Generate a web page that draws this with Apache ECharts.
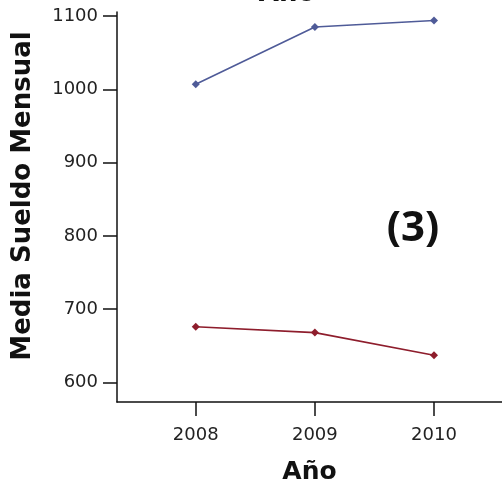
<!DOCTYPE html>
<html>
<head>
<meta charset="utf-8">
<script src="https://cdn.jsdelivr.net/npm/echarts@6/dist/echarts.min.js"></script>
<style>html,body{margin:0;padding:0;background:#fff}#c{width:502px;height:483px}</style>
</head>
<body>
<div id="c"></div>
<script>
const years = [2008, 2009, 2010];
const seriesBlue = [1007, 1085, 1094];
const seriesRed = [676, 668, 637];
const yTicks = [600, 700, 800, 900, 1000, 1100];
const xTitle = 'Año';
const yTitle = 'Media Sueldo Mensual';
const topTitle = 'Año';
const panelLabel = '(3)';

const chart = echarts.init(document.getElementById('c'), null, {renderer: 'canvas'});
const font = 'DejaVu Sans';
chart.setOption({
  backgroundColor: '#ffffff',
  animation: false,
  grid: {left: 117, top: 12, right: 0, bottom: 81, containLabel: false, outerBoundsMode: 'none'},
  xAxis: {
    type: 'value', min: 2007.339, max: 2010.571,
    name: xTitle, nameLocation: 'middle', nameGap: 58,
    nameTextStyle: {fontFamily: font, fontWeight: 'bold', fontSize: 25, color: '#111'},
    axisLine: {show: true, lineStyle: {color: '#111', width: 1.5}},
    axisTick: {show: true, length: 14, lineStyle: {color: '#111', width: 1.5}, customValues: years},
    axisLabel: {fontFamily: font, fontSize: 18, color: '#222', margin: 24, customValues: years, formatter: v => String(v)},
    splitLine: {show: false}
  },
  yAxis: {
    type: 'value', min: 573.3, max: 1105.5,
    axisLine: {show: true, lineStyle: {color: '#111', width: 1.5}},
    axisTick: {show: true, length: 14, lineStyle: {color: '#111', width: 1.5}, customValues: yTicks},
    axisLabel: {fontFamily: font, fontSize: 18, color: '#222', margin: 19, customValues: yTicks, formatter: v => String(v)},
    splitLine: {show: false}
  },
  graphic: [
    {type: 'text', x: 23, y: 196, rotation: Math.PI / 2,
     style: {text: yTitle, fontFamily: font, fontWeight: 'bold', fontSize: 26, fill: '#111', align: 'center', verticalAlign: 'middle'}},
    {type: 'text', x: 287, y: -6,
     style: {text: topTitle, fontFamily: font, fontWeight: 'bold', fontSize: 26, fill: '#111', align: 'center', verticalAlign: 'middle'}},
    {type: 'text', x: 413, y: 229,
     style: {text: panelLabel, fontFamily: 'Open Sans', fontWeight: 'bold', fontSize: 42, fill: '#111', align: 'center', verticalAlign: 'middle'}}
  ],
  series: [
    {type: 'line', data: years.map((y, i) => [y, seriesBlue[i]]), symbol: 'diamond', symbolSize: 8,
     lineStyle: {color: '#4f5b98', width: 1.6}, itemStyle: {color: '#4f5b98'}},
    {type: 'line', data: years.map((y, i) => [y, seriesRed[i]]), symbol: 'diamond', symbolSize: 8,
     lineStyle: {color: '#8e1d2c', width: 1.6}, itemStyle: {color: '#8e1d2c'}}
  ]
});
</script>
</body>
</html>
